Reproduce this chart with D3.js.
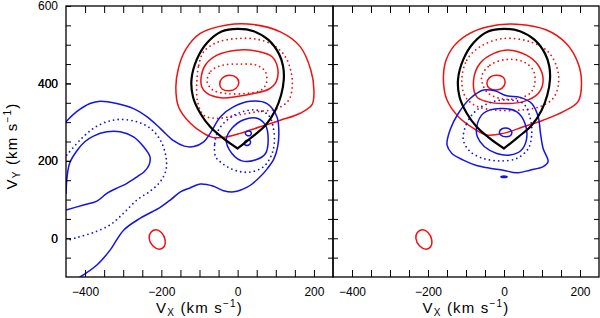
<!DOCTYPE html>
<html><head><meta charset="utf-8">
<script src="https://cdn.jsdelivr.net/npm/d3@7"></script>
<style>body{margin:0;background:#fff}</style>
</head><body><svg id="c" width="600" height="318"></svg>
<script>
// ---- axis settings ----
const xDomain = [-450, 250];
const yDomain = [-100, 600];
const xTickValues = d3.range(-400, 201, 50);
const yTickValues = d3.range(-50, 551, 50);
const xLabelTicks = [-400, -200, 0, 200];
const yLabelTicks = [0, 200, 400, 600];

// ---- contour data (V_X, V_Y) in km/s ----
const ellipsoid = [[0,232],[38,262],[73,292],[99,331],[114,370],[121,410],[119,445],[108,477],[80,513],[42,535],[0,541],[-42,534],[-80,505],[-107,462],[-121,410],[-117,365],[-98,323],[-72,288],[-35,256],[0,232]];

const redSmall = [[-232,0],[-228,15],[-215,22],[-200,15],[-190,-5],[-193,-22],[-205,-28],[-222,-20]];

// left panel
const L_redOuter = [[-162,391],[-155,340],[-124,297],[-89,271],[-63,260],[-28,262],[7,271],[59,288],[112,305],[164,323],[195,345],[200,383],[192,434],[164,495],[112,533],[42,552],[-28,551],[-98,529],[-137,486],[-155,440]];
const L_redDotOuter = [[-107,404],[-102,447],[-89,482],[-54,506],[-2,516],[51,514],[94,499],[125,469],[140,430],[143,391],[134,357],[103,335],[51,327],[-2,318],[-54,310],[-89,318],[-105,353]];
const L_redMid = [[-96,413],[-85,447],[-54,473],[-2,486],[51,483],[90,469],[105,439],[101,404],[81,385],[42,374],[-2,366],[-45,363],[-80,374],[-94,391]];
const L_redDotInner = [[-80,405],[-70,432],[-40,447],[5,450],[50,447],[73,430],[75,400],[60,382],[20,374],[-30,374],[-65,383]];
const L_redInner = [[-47,398],[-40,414],[-22,421],[-3,415],[3,402],[-5,387],[-22,381],[-40,385]];

const L_blueOuter = [[-450,301],[-422,327],[-387,348],[-360,354],[-317,348],[-273,335],[-238,314],[-203,284],[-168,252],[-140,238],[-115,237],[-89,249],[-72,271],[-45,314],[-10,340],[33,354],[77,348],[103,314],[108,271],[105,237],[95,205],[78,180],[55,155],[25,132],[-10,120],[-37,123],[-65,135],[-98,140],[-125,130],[-150,120],[-175,100],[-203,80],[-255,52],[-299,21],[-334,-30],[-369,-69],[-413,-100]];
const L_blueDotLobe = [[-448,215],[-413,254],[-378,284],[-343,301],[-308,307],[-264,301],[-229,284],[-203,254],[-188,211],[-188,176],[-203,146],[-229,122],[-264,99],[-299,65],[-334,35],[-378,15],[-421,2],[-448,-6]];
const L_blueInnerLobe = [[-450,116],[-447,160],[-440,195],[-420,228],[-400,250],[-378,264],[-343,275],[-308,275],[-273,262],[-247,237],[-230,211],[-232,190],[-245,172],[-262,160],[-290,142],[-320,128],[-343,116],[-369,96],[-404,86],[-450,73]];
const L_blueDotBlob = [[-58,211],[-60,245],[-50,280],[-22,310],[16,328],[51,331],[81,318],[93,288],[96,245],[87,211],[68,185],[38,172],[7,172],[-24,183],[-46,198]];
const L_blueInnerBlob = [[-30,254],[-15,284],[16,306],[51,310],[73,292],[80,254],[73,219],[46,202],[11,200],[-15,219]];
const L_blueTinyA = [[20,271],[24,276],[33,276],[36,271],[33,266],[24,266]];
const L_blueTinyB = [[17,245],[22,252],[31,253],[34,248],[29,241],[20,241]];

// right panel
const R_redOuter = [[-159,400],[-150,357],[-120,314],[-80,284],[-45,267],[-2,271],[51,288],[103,305],[156,327],[195,353],[204,400],[195,452],[164,503],[112,538],[33,553],[-45,546],[-98,525],[-133,495],[-155,452]];
const R_redDotOuter = [[-111,409],[-98,460],[-63,495],[-2,516],[68,508],[116,482],[140,439],[143,396],[129,361],[94,340],[42,331],[-19,331],[-72,341],[-102,366]];
const R_redMid = [[-80,409],[-63,452],[-28,477],[16,486],[59,473],[90,447],[103,409],[90,374],[51,353],[-2,348],[-45,353],[-72,366]];
const R_redDotInner = [[-59,417],[-37,447],[7,462],[51,456],[77,434],[81,400],[68,374],[33,361],[-10,361],[-45,378]];
const R_redInner = [[-45,400],[-38,415],[-21,421],[-2,416],[3,403],[-5,388],[-21,383],[-38,387]];

const R_blueOuter = [[-150,241],[-142,280],[-120,323],[-89,361],[-54,383],[-24,381],[7,368],[42,364],[73,348],[90,314],[96,271],[103,232],[116,198],[103,185],[68,176],[33,169],[-2,176],[-37,181],[-72,188],[-107,202],[-137,219]];
const R_blueDot = [[-107,254],[-98,297],[-72,331],[-28,353],[16,357],[51,348],[68,314],[73,271],[64,232],[33,206],[-10,200],[-54,206],[-89,224]];
const R_blueInner = [[-72,288],[-54,323],[-10,335],[33,327],[55,297],[59,254],[44,226],[16,215],[-19,219],[-52,237],[-70,262]];
const R_blueLoop = [[-12,275],[-5,283],[10,284],[20,276],[18,266],[5,262],[-8,266]];
const R_blueDash = [[-8,159],[0,161],[8,159],[0,157]];

// ---- styles ----
const RED = "#f01010", BLUE = "#1414e6";
const styles = {
  redSolid: {stroke: RED, width: 1.5, dash: null},
  redDot: {stroke: RED, width: 1.8, dash: "0,4.6"},
  blueSolid: {stroke: BLUE, width: 1.5, dash: null},
  blueDot: {stroke: BLUE, width: 1.8, dash: "0,4.6"},
  black: {stroke: "#000", width: 2.2, dash: null}
};

const panels = [
  {range: [66, 333], yLabels: true, layers: [
    [L_redOuter, "redSolid", true], [L_redDotOuter, "redDot", true], [L_redMid, "redSolid", true],
    [L_redDotInner, "redDot", true], [L_redInner, "redSolid", true], [redSmall, "redSolid", true],
    [L_blueOuter, "blueSolid", false], [L_blueDotLobe, "blueDot", false], [L_blueInnerLobe, "blueSolid", false],
    [L_blueDotBlob, "blueDot", true], [L_blueInnerBlob, "blueSolid", true],
    [L_blueTinyA, "blueSolid", true], [L_blueTinyB, "blueSolid", true],
    [ellipsoid, "black", false]
  ]},
  {range: [333, 599], yLabels: false, layers: [
    [R_redOuter, "redSolid", true], [R_redDotOuter, "redDot", true], [R_redMid, "redSolid", true],
    [R_redDotInner, "redDot", true], [R_redInner, "redSolid", true], [redSmall, "redSolid", true],
    [R_blueOuter, "blueSolid", true], [R_blueDot, "blueDot", true], [R_blueInner, "blueSolid", true],
    [R_blueLoop, "blueSolid", true], [R_blueDash, "blueSolid", true],
    [ellipsoid, "black", false]
  ]}
];

const svg = d3.select("#c");
const y = d3.scaleLinear().domain(yDomain).range([277, 6]);
const FONT = "'Liberation Sans', Arial, sans-serif";

panels.forEach((p, i) => {
  const x = d3.scaleLinear().domain(xDomain).range(p.range);
  const clipId = "clip" + i;
  svg.append("clipPath").attr("id", clipId).append("rect")
    .attr("x", p.range[0]).attr("y", 6).attr("width", p.range[1] - p.range[0]).attr("height", 271);
  const g = svg.append("g").attr("clip-path", `url(#${clipId})`);
  p.layers.forEach(([data, sty, closed]) => {
    const s = styles[sty];
    const line = d3.line().x(d => x(d[0])).y(d => y(d[1]))
      .curve(closed ? d3.curveCatmullRomClosed.alpha(0.5) : d3.curveCatmullRom.alpha(0.5));
    g.append("path").attr("d", line(data)).attr("fill", data === R_blueDash ? BLUE : "none")
      .attr("stroke", s.stroke).attr("stroke-width", s.width)
      .attr("stroke-linecap", "round").attr("stroke-linejoin", "round")
      .attr("stroke-dasharray", s.dash);
  });

  const fmt = d => xLabelTicks.includes(d) ? d3.format("")(d) : "";
  const yfmt = d => (p.yLabels && yLabelTicks.includes(d)) ? d3.format("")(d) : "";
  const style = a => {
    a.select(".domain").remove();
    a.selectAll("line").attr("stroke", "#000").attr("stroke-width", 1);
    a.selectAll("text").attr("font-family", FONT).attr("font-size", 12).attr("fill", "#000");
  };
  svg.append("g").attr("transform", "translate(0,277)")
    .call(d3.axisBottom(x).tickValues(xTickValues).tickSize(-7).tickPadding(10).tickFormat(fmt)).call(style);
  svg.append("g").attr("transform", "translate(0,6)")
    .call(d3.axisTop(x).tickValues(xTickValues).tickSize(-7).tickFormat(() => "")).call(style);
  svg.append("g").attr("transform", `translate(${p.range[0]},0)`)
    .call(d3.axisLeft(y).tickValues(yTickValues.concat(p.yLabels ? yLabelTicks : [])).tickSize(-5).tickPadding(8).tickFormat(yfmt)).call(style);
  svg.append("g").attr("transform", `translate(${p.range[1]},0)`)
    .call(d3.axisRight(y).tickValues(yTickValues).tickSize(-5).tickFormat(() => "")).call(style);

  svg.append("rect").attr("x", p.range[0]).attr("y", 6)
    .attr("width", p.range[1] - p.range[0]).attr("height", 271)
    .attr("fill", "none").attr("stroke", "#000").attr("stroke-width", 1.3);

  // x axis label
  const cx = (p.range[0] + p.range[1]) / 2;
  const t = svg.append("text").attr("x", cx).attr("y", 313).attr("text-anchor", "middle")
    .attr("font-family", FONT).attr("font-size", 15).attr("letter-spacing", 1.2);
  t.append("tspan").text("V");
  t.append("tspan").attr("font-size", 10).attr("dy", 3).text("X");
  t.append("tspan").attr("dy", -3).text("  (km  s");
  t.append("tspan").attr("font-size", 10).attr("dy", -6).text("−1");
  t.append("tspan").attr("dy", 6).text(")");
});

// y axis label
const ty = svg.append("text").attr("transform", "translate(17,146) rotate(-90)").attr("text-anchor", "middle")
  .attr("font-family", FONT).attr("font-size", 15).attr("letter-spacing", 1.2);
ty.append("tspan").text("V");
ty.append("tspan").attr("font-size", 10).attr("dy", 3).text("Y");
ty.append("tspan").attr("dy", -3).text("  (km  s");
ty.append("tspan").attr("font-size", 10).attr("dy", -6).text("−1");
ty.append("tspan").attr("dy", 6).text(")");
</script></body></html>
